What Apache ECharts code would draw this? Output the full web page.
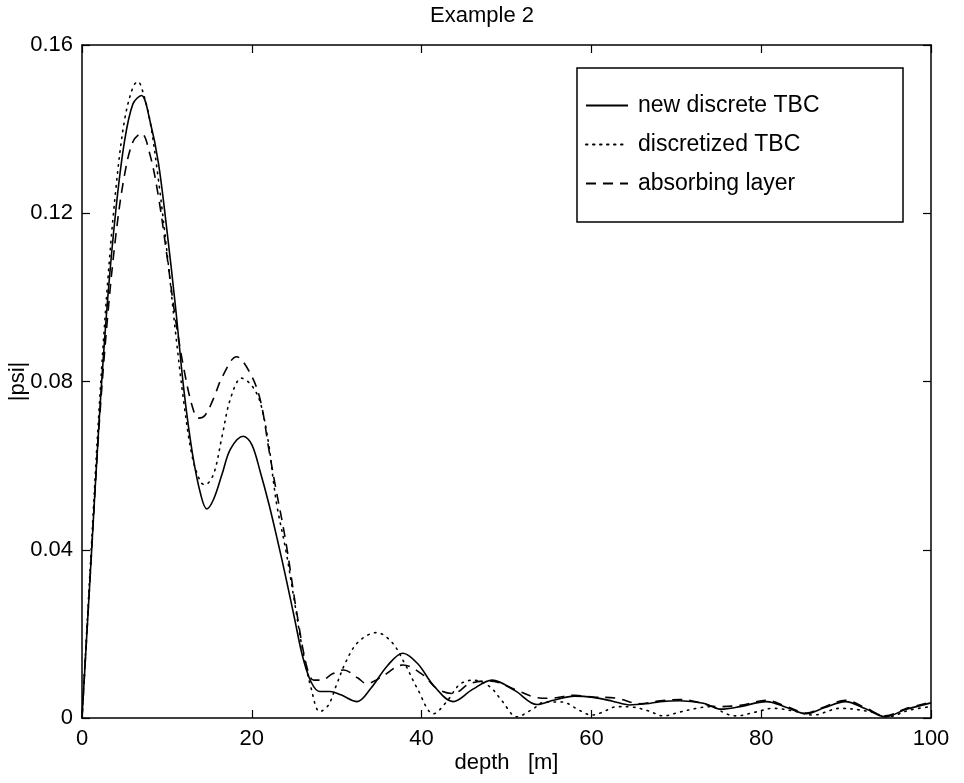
<!DOCTYPE html>
<html>
<head>
<meta charset="utf-8">
<script src="https://cdn.jsdelivr.net/npm/echarts@6/dist/echarts.min.js"></script>
<style>html,body{margin:0;padding:0;background:#fff}#c{width:964px;height:783px}</style>
</head>
<body>
<div id="c"></div>
<script>
// ---- data ----
const titleText = 'Example 2';
const xTicks = [0, 20, 40, 60, 80, 100];
const yTicks = [0, 0.04, 0.08, 0.12, 0.16];
const seriesNames = ['new discrete TBC', 'discretized TBC', 'absorbing layer'];

const solidDepth = [0,1,2,3,4,5,6,7,8,9,10,11,12,13,14,14.7,15.5,16.5,17.5,19,20,21,22,23,24,25,26,27,28,29.2,30.5,32.4,34,36,37.8,39.5,41.5,43.7,46,48.3,51,53.6,55.5,58,60.2,62.5,64.5,66.5,68.1,70.4,73.2,75.3,77.5,80.6,83,85.3,87.5,89.9,92.3,94.6,97,100];
const solidVals = [0,0.035,0.07,0.099,0.121,0.137,0.146,0.148,0.142,0.132,0.116,0.098,0.078,0.063,0.053,0.0497,0.052,0.058,0.064,0.067,0.065,0.0585,0.051,0.0425,0.0335,0.024,0.0145,0.0085,0.0063,0.0063,0.0055,0.0039,0.007,0.0125,0.0154,0.013,0.0075,0.0039,0.0068,0.009,0.0065,0.0032,0.0042,0.0052,0.0049,0.004,0.0031,0.0034,0.0039,0.0041,0.0035,0.0021,0.0027,0.0039,0.0025,0.001,0.0025,0.0039,0.0022,0.0003,0.002,0.0036];

const dotDepth = [0,1,2,3,4,5,6,6.6,7,8,9,10,11,12,13,14,14.5,15.5,16.5,17.5,18.8,20,21,22,22.5,23,24,25,26,27,28,29,30,31,32.5,34.7,36.5,38,39.5,41.4,43,44.5,46.1,48,49.5,51.2,53,54.5,56.5,58.7,60,61.2,63,64.8,66.7,68.5,70.4,72.4,74,75.9,77,79.5,81.4,84.2,86.1,89.3,92.8,94.9,97.5,100];
const dotVals = [0,0.037,0.073,0.103,0.126,0.142,0.150,0.1513,0.150,0.142,0.128,0.111,0.092,0.075,0.062,0.056,0.0555,0.058,0.067,0.076,0.0808,0.079,0.075,0.065,0.057,0.050,0.040,0.028,0.016,0.007,0.0015,0.003,0.008,0.013,0.018,0.0203,0.018,0.013,0.007,0.001,0.004,0.008,0.009,0.0075,0.004,0.0003,0.002,0.0038,0.0038,0.0017,0.0007,0.0013,0.0027,0.0026,0.0017,0.0005,0.0014,0.0023,0.0027,0.001,0.0005,0.0015,0.0023,0.0015,0.0007,0.0023,0.0015,0.0003,0.0019,0.0027];

const dashDepth = [0,1,2,3,4,5,6,7,8,9,10,11,12,13,13.7,14.5,15.5,16.5,18.2,19.8,21,22,22.7,24,25.3,26.5,27.3,28.2,29.5,30.8,32.5,33.5,35.1,37.8,40.2,41.8,43.7,45.7,48,51.2,53.2,55.1,58,60.2,63,65.7,68.1,70.4,72.5,74.7,77.5,80.6,83,85.3,87.5,89.9,92.3,94.6,97,100];
const dashVals = [0,0.035,0.069,0.095,0.115,0.129,0.137,0.139,0.134,0.124,0.110,0.095,0.083,0.074,0.0713,0.072,0.076,0.081,0.0859,0.082,0.0756,0.064,0.056,0.042,0.025,0.012,0.009,0.009,0.0105,0.0114,0.0095,0.0082,0.0095,0.0126,0.0102,0.007,0.0058,0.0082,0.0088,0.0066,0.005,0.0047,0.0054,0.005,0.0047,0.0034,0.0041,0.0044,0.0038,0.0027,0.003,0.0042,0.0027,0.0012,0.0027,0.0042,0.0024,0.0005,0.0022,0.0038];

const pairs = (xs, ys) => xs.map((x, i) => [x, ys[i]]);

const FONT = 'Liberation Sans, Arial, Helvetica, sans-serif';
const chart = echarts.init(document.getElementById('c'), null, {renderer: 'canvas'});

const axisCommon = {
  axisLine: {show: true, onZero: false, lineStyle: {color: '#000', width: 1.5}},
  axisTick: {show: true, inside: true, length: 8, lineStyle: {color: '#000', width: 1.2}},
  splitLine: {show: false}
};

chart.setOption({
  animation: false,
  backgroundColor: '#fff',
  color: ['#000', '#000', '#000'],
  title: {text: titleText, left: 'center', top: 0,
    textStyle: {fontFamily: FONT, fontSize: 22, fontWeight: 'normal', color: '#000'}},
  grid: {left: 82, right: 33, top: 45, bottom: 65, containLabel: false, outerBoundsMode: 'none'},
  legend: {
    orient: 'vertical', left: 585, top: 93, padding: 0,
    itemWidth: 42, itemHeight: 14, itemGap: 14,
    itemStyle: {color: 'rgba(0,0,0,0)', borderColor: 'rgba(0,0,0,0)', borderWidth: 0},
    textStyle: {fontFamily: FONT, fontSize: 23, lineHeight: 25, color: '#000', padding: [0,0,0,5]},
    data: seriesNames,
    selectedMode: false
  },
  graphic: [{type: 'rect', shape: {x: 577, y: 68, width: 326, height: 154},
    style: {fill: 'none', stroke: '#000', lineWidth: 1.5}, z: 10}],
  xAxis: [
    Object.assign({type: 'value', min: 0, max: 100, interval: 20, position: 'bottom',
      name: 'depth   [m]', nameLocation: 'middle', nameGap: 34, nameMoveOverlap: false,
      nameTextStyle: {fontFamily: FONT, fontSize: 22, color: '#000'},
      axisLabel: {fontFamily: FONT, fontSize: 22, color: '#000', margin: 10}}, axisCommon),
    Object.assign({type: 'value', min: 0, max: 100, interval: 20, position: 'top',
      axisLabel: {show: false}}, axisCommon)
  ],
  yAxis: [
    Object.assign({type: 'value', min: 0, max: 0.16, interval: 0.04, position: 'left',
      name: '|psi|', nameLocation: 'middle', nameGap: 53, nameRotate: 90, nameMoveOverlap: false,
      nameTextStyle: {fontFamily: FONT, fontSize: 22, color: '#000'},
      axisLabel: {fontFamily: FONT, fontSize: 22, color: '#000', margin: 9,
        formatter: v => (v === 0 ? '0' : v.toFixed(2))}}, axisCommon),
    Object.assign({type: 'value', min: 0, max: 0.16, interval: 0.04, position: 'right',
      axisLabel: {show: false}}, axisCommon)
  ],
  series: [
    {name: seriesNames[0], type: 'line', data: pairs(solidDepth, solidVals), smooth: 0.35,
      symbol: 'none', itemStyle: {color: '#000'}, lineStyle: {color: '#000', width: 1.6, type: 'solid'}},
    {name: seriesNames[1], type: 'line', data: pairs(dotDepth, dotVals), smooth: 0.35,
      symbol: 'none', itemStyle: {color: '#000'}, lineStyle: {color: '#000', width: 1.6, type: [1.5, 5.5], cap: 'round'}},
    {name: seriesNames[2], type: 'line', data: pairs(dashDepth, dashVals), smooth: 0.35,
      symbol: 'none', itemStyle: {color: '#000'}, lineStyle: {color: '#000', width: 1.6, type: [10, 7]}}
  ]
});
</script>
</body>
</html>
